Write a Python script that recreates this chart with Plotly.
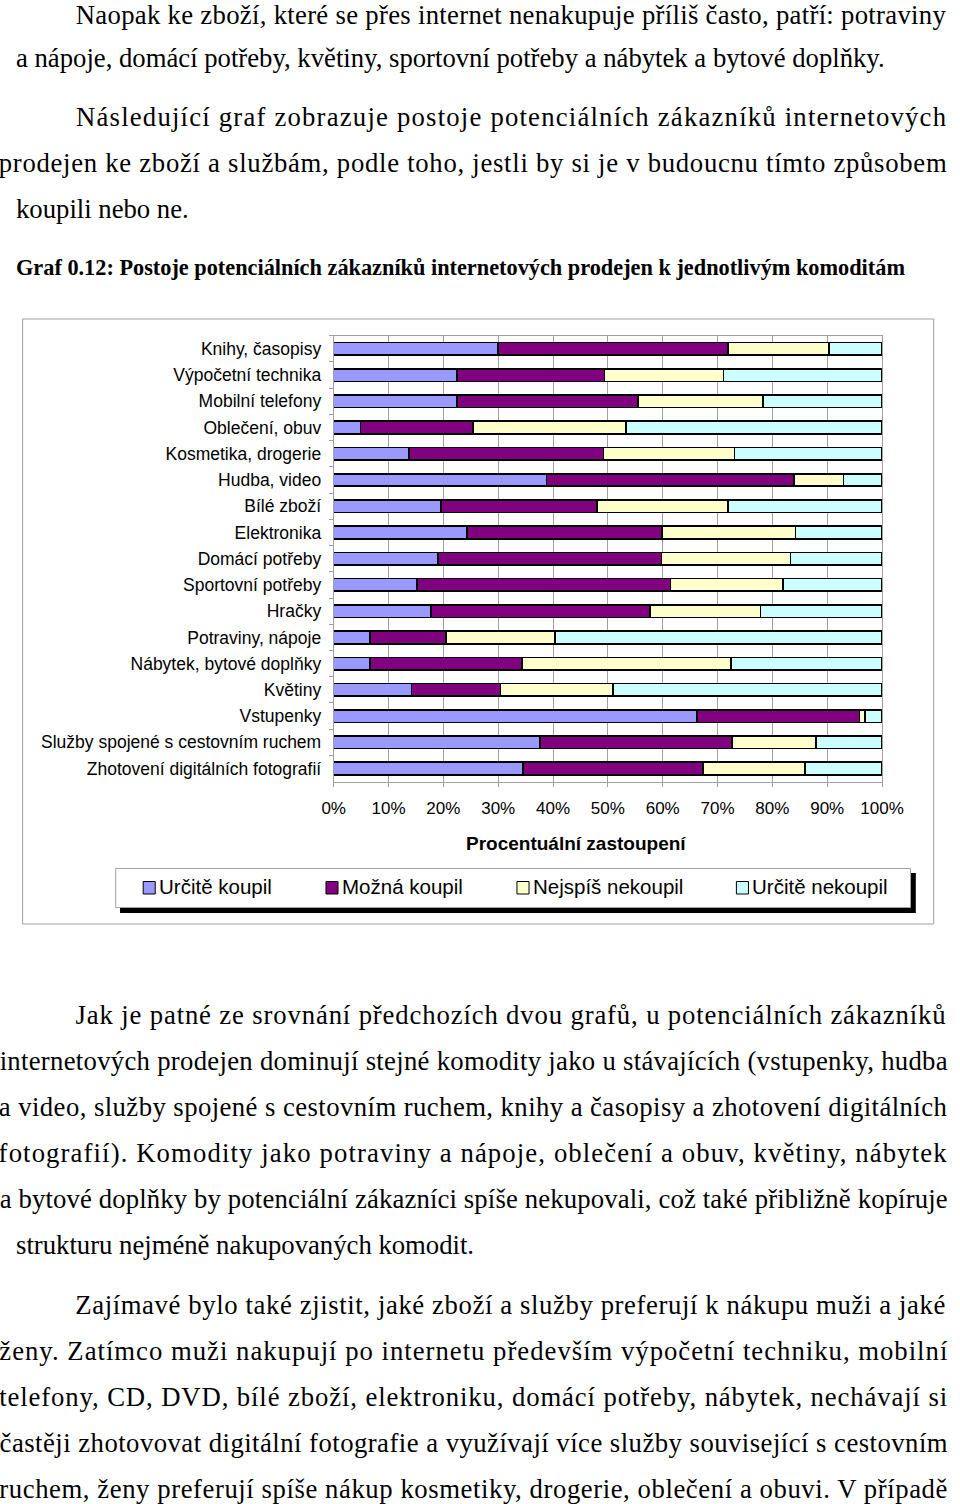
import json
import plotly.graph_objects as go

# ---------------- data ----------------
categories = [
    "Knihy, časopisy", "Výpočetní technika", "Mobilní telefony", "Oblečení, obuv",
    "Kosmetika, drogerie", "Hudba, video", "Bílé zboží", "Elektronika",
    "Domácí potřeby", "Sportovní potřeby", "Hračky", "Potraviny, nápoje",
    "Nábytek, bytové doplňky", "Květiny", "Vstupenky",
    "Služby spojené s cestovním ruchem", "Zhotovení digitálních fotografií",
]
urcite_koupil    = [30.0, 22.5, 22.5,  4.9, 13.7, 38.8, 19.6, 24.3, 19.0, 15.2, 17.8,  6.6,  6.6, 14.2, 66.3, 37.6, 34.5]
mozna_koupil     = [41.9, 26.9, 33.0, 20.5, 35.5, 45.1, 28.4, 35.6, 40.8, 46.2, 39.9, 13.9, 27.7, 16.2, 29.6, 35.0, 32.8]
nejspis_nekoupil = [18.4, 21.7, 22.8, 27.9, 23.9,  9.1, 23.9, 24.3, 23.5, 20.5, 20.1, 19.9, 38.2, 20.5,  1.0, 15.4, 18.6]
urcite_nekoupil  = [ 9.7, 28.9, 21.7, 46.7, 26.9,  7.0, 28.1, 15.8, 16.7, 18.1, 22.2, 59.6, 27.5, 49.1,  3.1, 12.0, 14.1]
series_names  = ["Určitě koupil", "Možná koupil", "Nejspíš nekoupil", "Určitě nekoupil"]
series_values = [urcite_koupil, mozna_koupil, nejspis_nekoupil, urcite_nekoupil]
series_colors = ["#9999FF", "#800080", "#FFFFCC", "#CCFFFF"]
x_ticks = [0, 10, 20, 30, 40, 50, 60, 70, 80, 90, 100]
x_tick_labels = ["0%", "10%", "20%", "30%", "40%", "50%", "60%", "70%", "80%", "90%", "100%"]
x_title = "Procentuální zastoupení"

paragraphs = [
    (12, [
        ("Naopak ke zboží, které se přes internet nenakupuje příliš často, patří: potraviny", True, True),
        ("a nápoje, domácí potřeby, květiny, sportovní potřeby a nábytek a bytové doplňky.", False, False),
    ]),
    (117, [
        ("Následující graf zobrazuje postoje potenciálních zákazníků internetových", True, True),
        ("prodejen ke zboží a službám, podle toho, jestli by si je v budoucnu tímto způsobem", False, True),
        ("koupili nebo ne.", False, False),
    ]),
    (1015, [
        ("Jak je patné ze srovnání předchozích dvou grafů, u potenciálních zákazníků", True, True),
        ("internetových prodejen dominují stejné komodity jako u stávajících (vstupenky, hudba", False, True),
        ("a video, služby spojené s cestovním ruchem, knihy a časopisy a zhotovení digitálních", False, True),
        ("fotografií). Komodity jako potraviny a nápoje, oblečení a obuv, květiny, nábytek", False, True),
        ("a bytové doplňky by potenciální zákazníci spíše nekupovali, což také přibližně kopíruje", False, True),
        ("strukturu nejméně nakupovaných komodit.", False, False),
    ]),
    (1305, [
        ("Zajímavé bylo také zjistit, jaké zboží a služby preferují k nákupu muži a jaké", True, True),
        ("ženy. Zatímco muži nakupují po internetu především výpočetní techniku, mobilní", False, True),
        ("telefony, CD, DVD, bílé zboží, elektroniku, domácí potřeby, nábytek, nechávají si", False, True),
        ("častěji zhotovovat digitální fotografie a využívají více služby související s cestovním", False, True),
        ("ruchem, ženy preferují spíše nákup kosmetiky, drogerie, oblečení a obuvi. V případě", False, True),
    ]),
]
caption = "Graf 0.12: Postoje potenciálních zákazníků internetových prodejen k jednotlivým komoditám"

# ---------------- helpers ----------------
W, H = 960, 1504
def px(x): return x / W
def py(y): return 1 - y / H

FS = 26.7
LEFT, RIGHT, INDENT = 4, 952, 82
LINE = 46
SERIF = "Liberation Serif"
SANS = "Liberation Sans"

fig = go.Figure()
for name, vals, col in zip(series_names, series_values, series_colors):
    fig.add_trace(go.Bar(
        y=categories, x=vals, name=name, orientation="h",
        marker=dict(color=col, line=dict(color="#000000", width=1.6)),
        showlegend=False, hoverinfo="x+y+name",
    ))

annotations = []
justify_targets = {}
for y0, lines in paragraphs:
    for i, (text, indent, justify) in enumerate(lines):
        yc = max(y0 + i * LINE, 15)
        x_start = INDENT if indent else LEFT
        if justify:
            # centred on the column; the browser then stretches it to the full column width
            annotations.append(dict(x=px((x_start + RIGHT) / 2), y=py(yc), xref="paper", yref="paper",
                                    text=text, showarrow=False, xanchor="center", yanchor="middle",
                                    borderpad=0, borderwidth=0,
                                    font=dict(family=SERIF, size=FS, color="black")))
            justify_targets[text] = RIGHT - x_start
        else:
            annotations.append(dict(x=px(x_start), y=py(yc), xref="paper", yref="paper", text=text,
                                    showarrow=False, xanchor="left", yanchor="middle",
                                    borderpad=0, borderwidth=0,
                                    font=dict(family=SERIF, size=FS, color="black")))

annotations.append(dict(x=px(4), y=py(267), xref="paper", yref="paper", text="<b>" + caption + "</b>",
                        showarrow=False, xanchor="left", yanchor="middle",
                        borderpad=0, borderwidth=0,
                        font=dict(family=SERIF, size=22.3, color="black")))

# axis title
annotations.append(dict(x=px(585), y=py(843), xref="paper", yref="paper", text="<b>" + x_title + "</b>",
                        showarrow=False, xanchor="center", yanchor="middle",
                        font=dict(family=SANS, size=19, color="black")))

shapes = []
# outer chart frame
shapes.append(dict(type="rect", xref="paper", yref="paper", x0=px(11), x1=px(955.5), y0=py(924), y1=py(319),
                   line=dict(color="#a0a0a0", width=1), fillcolor="rgba(0,0,0,0)"))
# legend shadow and box
shapes.append(dict(type="rect", xref="paper", yref="paper", x0=px(112), x1=px(937), y0=py(913), y1=py(873),
                   line=dict(width=0), fillcolor="#000000"))
shapes.append(dict(type="rect", xref="paper", yref="paper", x0=px(107.5), x1=px(931.5), y0=py(907.5), y1=py(868.5),
                   line=dict(color="#a0a0a0", width=1), fillcolor="#ffffff"))
legend_x = [136, 325.5, 523.5, 751]
for lx, name, col in zip(legend_x, series_names, series_colors):
    shapes.append(dict(type="rect", xref="paper", yref="paper", x0=px(lx), x1=px(lx + 12.5),
                       y0=py(894), y1=py(881.5), line=dict(color="#000000", width=1), fillcolor=col))
    annotations.append(dict(x=px(lx + 16.5), y=py(887), xref="paper", yref="paper", text=name,
                            showarrow=False, xanchor="left", yanchor="middle", borderpad=0, borderwidth=0,
                            font=dict(family=SANS, size=20.5, color="black")))

fig.update_layout(
    width=W, height=H, margin=dict(l=0, r=0, t=0, b=0, pad=0),
    paper_bgcolor="white", plot_bgcolor="white",
    barmode="stack", bargap=0.52,
    annotations=annotations, shapes=shapes, showlegend=False,
    xaxis=dict(domain=[px(333.5), px(902)], range=[0, 100], tickvals=x_ticks, ticktext=x_tick_labels,
               showgrid=True, gridcolor="#a0a0a0", gridwidth=1, zeroline=False,
               showline=True, linecolor="#a0a0a0", linewidth=1, mirror=True,
               ticks="outside", ticklen=4, tickcolor="#a0a0a0",
               tickfont=dict(family=SANS, size=17, color="black"), ticklabelstandoff=7),
    yaxis=dict(domain=[py(781.7), py(335.7)], type="category", autorange="reversed",
               showgrid=False, zeroline=False,
               showline=True, linecolor="#a0a0a0", linewidth=1, mirror=True,
               ticks="outside", ticklen=4, tickcolor="#a0a0a0", tickson="boundaries",
               tickfont=dict(family=SANS, size=17.5, color="black"), ticklabelstandoff=8),
)

# justify paragraph lines: give each (centred) justified line the exact column width via SVG textLength
post = """
document.body.style.margin='0';
document.body.style.overflow='hidden';
var J = %s;
function justify(){
  var texts = document.querySelectorAll('.annotation-text');
  for (var k = 0; k < texts.length; k++) {
    var t = texts[k];
    var key = t.getAttribute('data-unformatted') || t.textContent;
    if (!Object.prototype.hasOwnProperty.call(J, key)) continue;
    t.setAttribute('textLength', J[key]);
    t.setAttribute('lengthAdjust', 'spacing');
  }
}
justify();
if (document.fonts && document.fonts.ready) { document.fonts.ready.then(justify); }
""" % json.dumps(justify_targets)

fig.write_html("out.html", config={"displayModeBar": False}, post_script=post)
